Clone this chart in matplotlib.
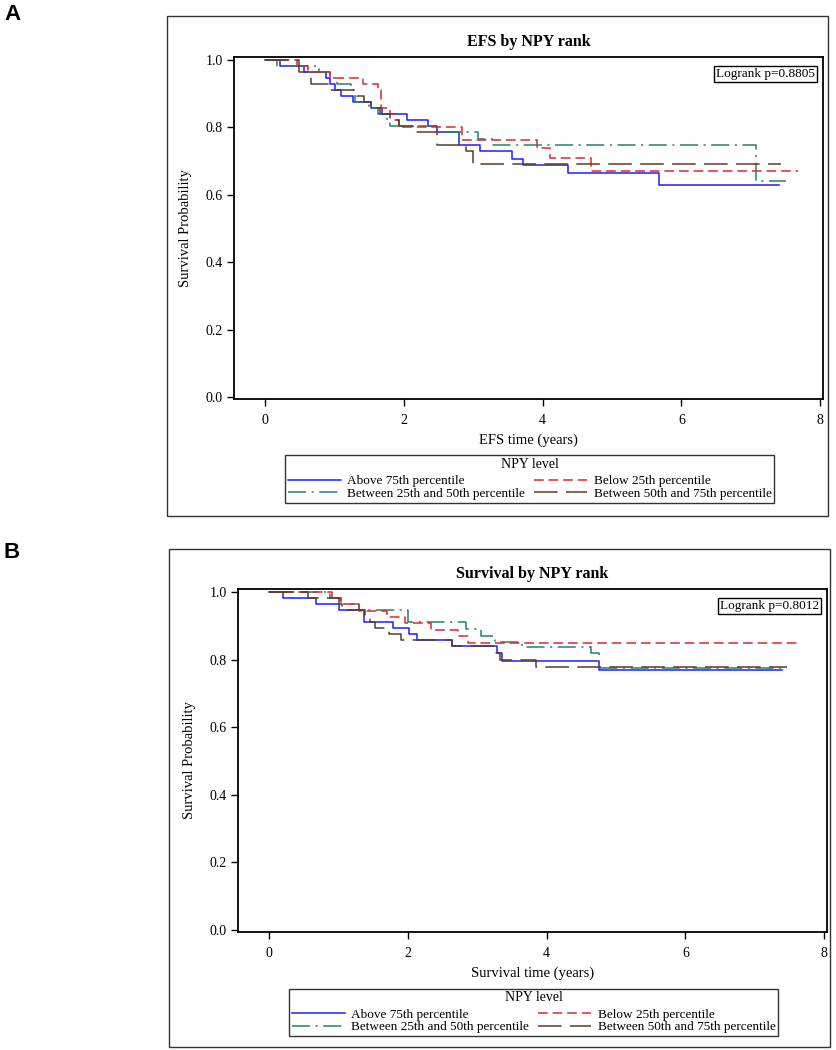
import matplotlib
matplotlib.use("Agg")
import matplotlib.pyplot as plt
from matplotlib.patches import Rectangle

# ---- data ----
groups = ["Above 75th percentile", "Between 25th and 50th percentile",
          "Below 25th percentile", "Between 50th and 75th percentile"]

# panel A: EFS
efs_above_t = [0, 0.22, 0.56, 0.88, 0.94, 1.00, 1.09, 1.26, 1.53, 1.69, 2.04, 2.34, 2.47, 2.80, 3.10, 3.55, 3.72, 4.36, 5.68]
efs_above_s = [1.0, 0.982, 0.964, 0.946, 0.929, 0.911, 0.893, 0.875, 0.857, 0.839, 0.821, 0.803, 0.785, 0.749, 0.729, 0.707, 0.688, 0.664, 0.628]
efs_above_end = 7.40

efs_mid_low_t = [0, 0.17, 0.78, 0.94, 1.03, 1.24, 1.30, 1.50, 1.62, 1.76, 1.80, 2.47, 3.07, 3.29, 7.07]
efs_mid_low_s = [1.0, 0.982, 0.964, 0.946, 0.929, 0.911, 0.875, 0.857, 0.839, 0.821, 0.803, 0.785, 0.767, 0.749, 0.640]
efs_mid_low_end = 7.50

efs_below_t = [0, 0.46, 0.62, 0.94, 1.41, 1.63, 1.67, 1.80, 1.87, 1.93, 2.84, 3.92, 4.11, 4.70]
efs_below_s = [1.0, 0.982, 0.964, 0.946, 0.929, 0.911, 0.857, 0.839, 0.821, 0.800, 0.762, 0.739, 0.710, 0.670]
efs_below_end = 7.68

efs_mid_high_t = [0, 0.49, 0.66, 0.94, 1.32, 1.42, 1.52, 1.65, 1.80, 1.93, 2.13, 2.48, 2.89, 3.00]
efs_mid_high_s = [1.0, 0.963, 0.929, 0.911, 0.893, 0.875, 0.857, 0.839, 0.821, 0.803, 0.785, 0.749, 0.729, 0.691]
efs_mid_high_end = 7.44

# panel B: overall survival
os_above_t = [0, 0.20, 0.67, 1.00, 1.36, 1.78, 2.02, 2.13, 2.64, 3.29, 3.36, 4.75]
os_above_s = [1.0, 0.981, 0.964, 0.946, 0.912, 0.893, 0.875, 0.857, 0.839, 0.821, 0.797, 0.769]
os_above_end = 7.39

os_mid_low_t = [0, 0.88, 1.03, 1.30, 2.00, 2.83, 3.05, 3.25, 3.65, 4.64, 4.75]
os_mid_low_s = [1.0, 0.981, 0.964, 0.947, 0.912, 0.890, 0.871, 0.853, 0.836, 0.819, 0.775]
os_mid_low_end = 7.46

os_below_t = [0, 0.90, 1.03, 1.30, 1.70, 1.96, 2.33, 2.72, 2.87]
os_below_s = [1.0, 0.981, 0.964, 0.945, 0.927, 0.909, 0.889, 0.869, 0.850]
os_below_end = 7.66

os_mid_high_t = [0, 0.56, 1.00, 1.05, 1.38, 1.45, 1.52, 1.72, 1.90, 2.64, 3.26, 3.33, 3.84]
os_mid_high_s = [1.0, 0.981, 0.964, 0.946, 0.929, 0.912, 0.895, 0.876, 0.857, 0.839, 0.821, 0.800, 0.778]
os_mid_high_end = 7.46

xticks = [0, 2, 4, 6, 8]
yticks = [0.0, 0.2, 0.4, 0.6, 0.8, 1.0]

# ---- styles ----
plt.rcParams["font.family"] = ["Liberation Serif", "DejaVu Serif"]
plt.rcParams["lines.scale_dashes"] = False
colors = ["#1c1cff", "#25806f", "#d8282f", "#5b3a29"]
styles = ["-", (0, (13, 4, 1.5, 4)), (0, (7, 3.5)), (0, (17, 6))]

W, H = 837, 1050
fig = plt.figure(figsize=(W / 100, H / 100), dpi=100)


def fx(px):
    return px / W


def fy(py):
    return 1 - py / H


def km_panel(box, ax_px, curves, ends, title, xlabel, pval, letter, letter_y):
    # outer frame
    x0, y0, x1, y1 = box
    fig.add_artist(Rectangle((fx(x0), fy(y1)), fx(x1 - x0), (y1 - y0) / H,
                             transform=fig.transFigure, fill=False,
                             edgecolor="#333333", lw=1.0))
    fig.text(fx(4), fy(letter_y), letter, fontsize=16, fontweight="bold",
             family=["Liberation Sans", "DejaVu Sans"], va="center", ha="left")

    l, t, r, b = ax_px
    ax = fig.add_axes([fx(l), fy(b), fx(r - l), (b - t) / H])
    handles = []
    for (tt, ss), end, c, ls, name in zip(curves, ends, colors, styles, groups):
        h, = ax.step(list(tt) + [end], list(ss) + [ss[-1]], where="post",
                     color=c, ls=ls, lw=1.1, label=name)
        handles.append(h)

    ax.set_xlim(-0.45, 8.04)
    ax.set_ylim(-0.006, 1.009)
    ax.set_xticks(xticks)
    ax.set_xticklabels([str(v) for v in xticks])
    ax.set_yticks(yticks)
    ax.set_yticklabels([f"{v:.1f}" for v in yticks])
    ax.tick_params(direction="out", length=5, width=1, labelsize=10, pad=3,
                   top=False, right=False)
    ax.tick_params(axis="x", pad=6)
    for sp in ax.spines.values():
        sp.set_linewidth(1.3)

    ax.set_title(title, fontsize=11.5, fontweight="bold", pad=8)
    ax.set_ylabel("Survival Probability", fontsize=10.5)
    ax.yaxis.set_label_coords(-0.072, 0.5)
    ax.set_xlabel(xlabel, fontsize=10.5)
    ax.xaxis.set_label_coords(0.5, -0.1)

    ax.text(0.986, 0.968, pval, transform=ax.transAxes, ha="right", va="top",
            fontsize=9.5,
            bbox=dict(boxstyle="square,pad=0.15", fc="white", ec="black", lw=1))

    leg = ax.legend(handles=handles, ncol=2, loc="upper center",
                    bbox_to_anchor=(0.502, -0.165), title="NPY level",
                    fontsize=9.5, title_fontsize=10, frameon=True,
                    fancybox=False, edgecolor="black", handlelength=4.0,
                    handletextpad=0.5, columnspacing=0.7, labelspacing=0.02,
                    borderpad=0.2, borderaxespad=0)
    leg.get_frame().set_linewidth(1.0)
    # push the title a bit away from the first row
    leg._legend_box.sep = 3
    return ax


km_panel((167, 16, 828, 516), (234, 57, 823, 399),
         [(efs_above_t, efs_above_s), (efs_mid_low_t, efs_mid_low_s),
          (efs_below_t, efs_below_s), (efs_mid_high_t, efs_mid_high_s)],
         [efs_above_end, efs_mid_low_end, efs_below_end, efs_mid_high_end],
         "EFS by NPY rank", "EFS time (years)", "Logrank p=0.8805", "A", 15)

km_panel((169, 549, 830, 1047), (238, 589, 827, 932),
         [(os_above_t, os_above_s), (os_mid_low_t, os_mid_low_s),
          (os_below_t, os_below_s), (os_mid_high_t, os_mid_high_s)],
         [os_above_end, os_mid_low_end, os_below_end, os_mid_high_end],
         "Survival by NPY rank", "Survival time (years)", "Logrank p=0.8012", "B", 553)

fig.savefig("out.png", dpi=100)
